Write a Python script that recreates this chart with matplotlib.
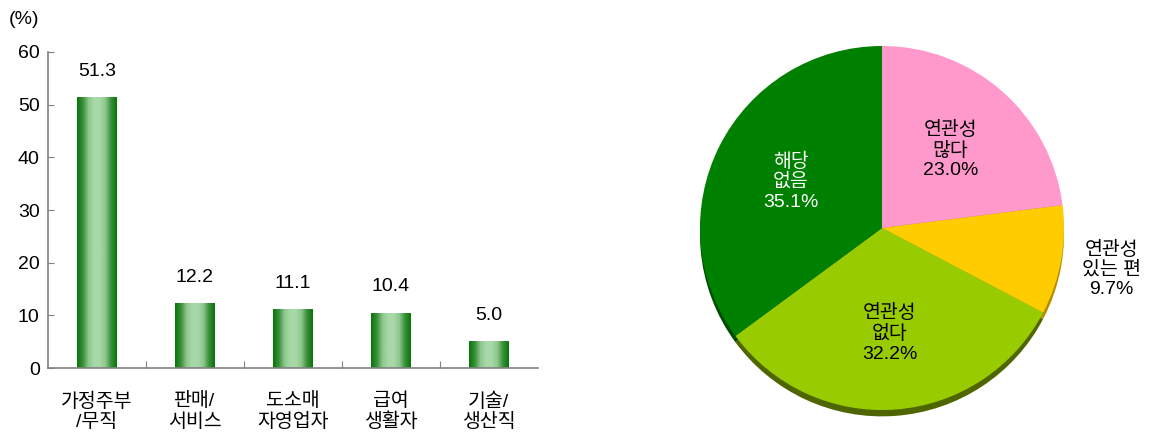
import numpy as np
import matplotlib.pyplot as plt
from matplotlib.colors import LinearSegmentedColormap

plt.rcParams['font.family'] = ['Liberation Sans', 'Noto Sans CJK KR']

# 막대그래프 데이터
categories = ['가정주부\n/무직', '판매/\n서비스', '도소매\n자영업자', '급여\n생활자', '기술/\n생산직']
values = [51.3, 12.2, 11.1, 10.4, 5.0]

# 원그래프 데이터 (12시 방향부터 시계방향)
pie_labels = ['연관성\n많다', '연관성\n있는 편', '연관성\n없다', '해당\n없음']
pie_values = [23.0, 9.7, 32.2, 35.1]
pie_colors = ['#FF99CC', '#FFCC00', '#99CC00', '#008000']
shadow_colors = ['#B36B8F', '#B38F00', '#4F6600', '#004D00']
text_colors = ['black', 'black', 'black', 'white']

FS = 14

fig = plt.figure(figsize=(11.52, 4.41), dpi=100)

# ---- 막대그래프 ----
ax = fig.add_axes([0.0417, 0.1655, 0.425, 0.7166])
x = np.arange(len(values))
w = 0.4
bars = ax.bar(x, values, width=w, color='none', zorder=2)

# 막대 가로 그라데이션 (양끝 진한 녹색, 가운데 연한 녹색)
cmap = LinearSegmentedColormap.from_list(
    'bar', ['#067806', '#3C8F3C', '#8CC88C', '#A8D8A8', '#A8D8A8', '#8CC88C', '#3C8F3C', '#067806'])
grad = np.linspace(0, 1, 64).reshape(1, -1)
for b in bars:
    x0 = b.get_x()
    ax.imshow(grad, cmap=cmap, aspect='auto', extent=[x0, x0 + b.get_width(), 0, b.get_height()],
              zorder=2, interpolation='bilinear')

for xi, v in zip(x, values):
    ax.text(xi, v + 3.4, f'{v:.1f}', ha='center', va='bottom', fontsize=FS)

ax.set_xlim(-0.5, len(values) - 0.5)
ax.set_ylim(0, 60)
ax.set_yticks(range(0, 61, 10))
ax.set_xticks(np.arange(len(values) - 1) + 0.5)
ax.set_xticklabels([])
ax.tick_params(axis='y', direction='in', length=4, color='#808080', labelsize=FS, pad=6)
ax.tick_params(axis='x', direction='in', length=5, color='#808080')
for i, lab in enumerate(categories):
    ax.text(i, -4.6, lab, ha='center', va='top', fontsize=FS, linespacing=1.2)
for s in ['top', 'right']:
    ax.spines[s].set_visible(False)
for s in ['left', 'bottom']:
    ax.spines[s].set_color('#808080')
    ax.spines[s].set_linewidth(1.2)
fig.text(0.008, 0.955, '(%)', fontsize=FS, ha='left', va='center')

# ---- 원그래프 ----
pax = fig.add_axes([(882 - 182) / 1152, 1 - (228 + 182) / 441, 364 / 1152, 364 / 441])

# 아래쪽 그림자
shadow, _ = pax.pie(pie_values, colors=shadow_colors, startangle=90, counterclock=False,
                    radius=1.0, center=(0, -0.035), wedgeprops=dict(linewidth=0))
for s in shadow:
    s.set_clip_on(False)
wedges, _ = pax.pie(pie_values, colors=pie_colors, startangle=90, counterclock=False,
                    radius=1.0, wedgeprops=dict(linewidth=0))

label_r = [0.57, 1.28, 0.58, 0.56]
for wdg, lab, v, r, tc in zip(wedges, pie_labels, pie_values, label_r, text_colors):
    ang = np.deg2rad((wdg.theta1 + wdg.theta2) / 2)
    pax.text(r * np.cos(ang), r * np.sin(ang), f'{lab}\n{v:.1f}%', ha='center', va='center',
             fontsize=FS, color=tc, linespacing=1.2, clip_on=False)

pax.set_aspect('equal')
pax.set_xlim(-1.0, 1.0)
pax.set_ylim(-1.0, 1.0)
pax.axis('off')

fig.savefig('out.png', dpi=100)
